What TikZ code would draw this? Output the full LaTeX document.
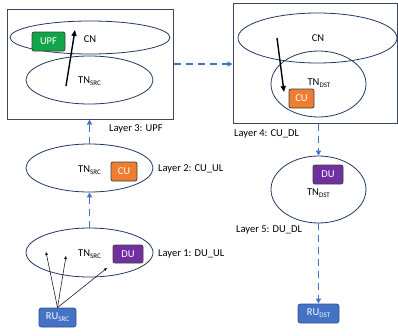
\documentclass[tikz,border=0pt]{standalone}
\usepackage{fontspec}
\setmainfont{Carlito}
\usetikzlibrary{shapes.geometric,arrows.meta}
\definecolor{ellc}{HTML}{203864}
\definecolor{boxc}{HTML}{3B4760}
\definecolor{dashc}{HTML}{4472C4}
\definecolor{upfc}{HTML}{12A64A}
\definecolor{cuc}{HTML}{ED7D31}
\definecolor{duc}{HTML}{7030A0}
\definecolor{ruc}{HTML}{4472C4}
\definecolor{rub}{HTML}{2F528F}
\newcommand{\subtx}[1]{\raisebox{-0.35ex}{\fontsize{7}{8}\selectfont #1}}
\begin{document}
\begin{tikzpicture}[x=1pt,y=-1pt,
  every node/.style={font=\fontsize{10.5}{12}\selectfont},
  outerbox/.style={draw=boxc,line width=1pt,rectangle,inner sep=0pt},
  ell/.style={draw=ellc,line width=0.8pt,ellipse,inner sep=0pt},
  fnbox/.style={rectangle,rounded corners=2pt,draw=black!75,line width=0.8pt,text=white,inner sep=0pt},
  rubox/.style={rectangle,rounded corners=2.5pt,draw=rub,fill=ruc,line width=0.8pt,text=white,inner sep=0pt},
  dasharrow/.style={draw=dashc,line width=1.5pt,dash pattern=on 7pt off 5pt,-{Triangle[length=5pt,width=5pt]}},
  movearrow/.style={draw=black,line width=1.4pt,-{Triangle[length=6pt,width=5pt]}},
  thinarrow/.style={draw=black,line width=0.5pt,-{Triangle[length=3pt,width=2.5pt]}},
  lbl/.style={anchor=west,inner sep=0pt}
]
\useasboundingbox (0,0) rectangle (398,335);

% left top box
\node[outerbox,minimum width=166pt,minimum height=110pt] (boxL) at (90,64) {};
\node[ell,minimum width=160pt,minimum height=33pt] (cnL) at (90,37.5) {};
\node[ell,minimum width=127pt,minimum height=48pt] (tnL) at (89.5,80) {};
\node[fnbox,fill=upfc,minimum width=33pt,minimum height=19pt] (upf) at (48.5,41.5) {UPF};
\node (cnLt) at (90,39) {CN};
\node (tnLt) at (89.5,81) {TN\subtx{SRC}};
\coordinate (aLs) at (66,86);
\coordinate (aLe) at (75,30);
\draw[movearrow] (aLs) -- (aLe);

% right top box
\node[outerbox,minimum width=164pt,minimum height=120pt] (boxR) at (315,63) {};
\node[ell,minimum width=159pt,minimum height=50pt] (cnR) at (317.5,38) {};
\node[ell,minimum width=95pt,minimum height=66pt] (tnR) at (318.5,84) {};
\node (cnRt) at (318,38) {CN};
\node (tnRt) at (319,83) {TN\subtx{DST}};
\node[fnbox,fill=cuc,minimum width=25pt,minimum height=19pt] (cuR) at (301.5,98.5) {CU};
\coordinate (aRs) at (277,38);
\coordinate (aRe) at (284,92);
\draw[movearrow] (aRs) -- (aRe);

% left middle
\node[ell,minimum width=127pt,minimum height=48pt] (tnS2) at (89.5,168) {};
\node (tnS2t) at (89.5,170) {TN\subtx{SRC}};
\node[fnbox,fill=cuc,minimum width=26pt,minimum height=19pt] (cuS) at (124,171.5) {CU};

% left bottom
\node[ell,minimum width=127pt,minimum height=49pt] (tnS1) at (89.5,252.5) {};
\node (tnS1t) at (89.5,254) {TN\subtx{SRC}};
\node[fnbox,fill=duc,minimum width=30pt,minimum height=18pt] (duS) at (128,254) {DU};

% right lower
\node[ell,minimum width=95pt,minimum height=67pt] (tnD2) at (318.5,189.5) {};
\node[fnbox,fill=duc,minimum width=30pt,minimum height=19pt] (duD) at (328,174.5) {DU};
\node (tnD2t) at (318.5,193) {TN\subtx{DST}};

% RU boxes
\node[rubox,minimum width=37pt,minimum height=19pt] (ruS) at (57.5,317.5) {RU\subtx{SRC}};
\node[rubox,minimum width=41pt,minimum height=19pt] (ruD) at (318.5,313.5) {RU\subtx{DST}};

% layer labels
\node[lbl] (l3) at (109,129) {Layer 3: UPF};
\node[lbl] (l4) at (234,134) {Layer 4: CU\_DL};
\node[lbl] (l2) at (158,169) {Layer 2: CU\_UL};
\node[lbl] (l1) at (158,254) {Layer 1: DU\_UL};
\node[lbl] (l5) at (236,230) {Layer 5: DU\_DL};

% dashed blue arrows
\draw[dasharrow] (tnS1.north) -- (tnS2.south);
\draw[dasharrow] (tnS2.north) -- (tnS2.north |- boxL.south);
\draw[dasharrow] (boxL.east) -- (boxL.east -| boxR.west);
\draw[dasharrow] (tnD2.north |- boxR.south) -- (tnD2.north);
\draw[dasharrow] (tnD2.south) -- (ruD.north);

% RU_SRC thin arrows
\coordinate (t1) at (46,252);
\coordinate (t2) at (66,256);
\coordinate (t3) at (107,268);
\draw[thinarrow] (ruS.north) -- (t1);
\draw[thinarrow] (ruS.north) -- (t2);
\draw[thinarrow] (ruS.north) -- (t3);
\end{tikzpicture}
\end{document}
